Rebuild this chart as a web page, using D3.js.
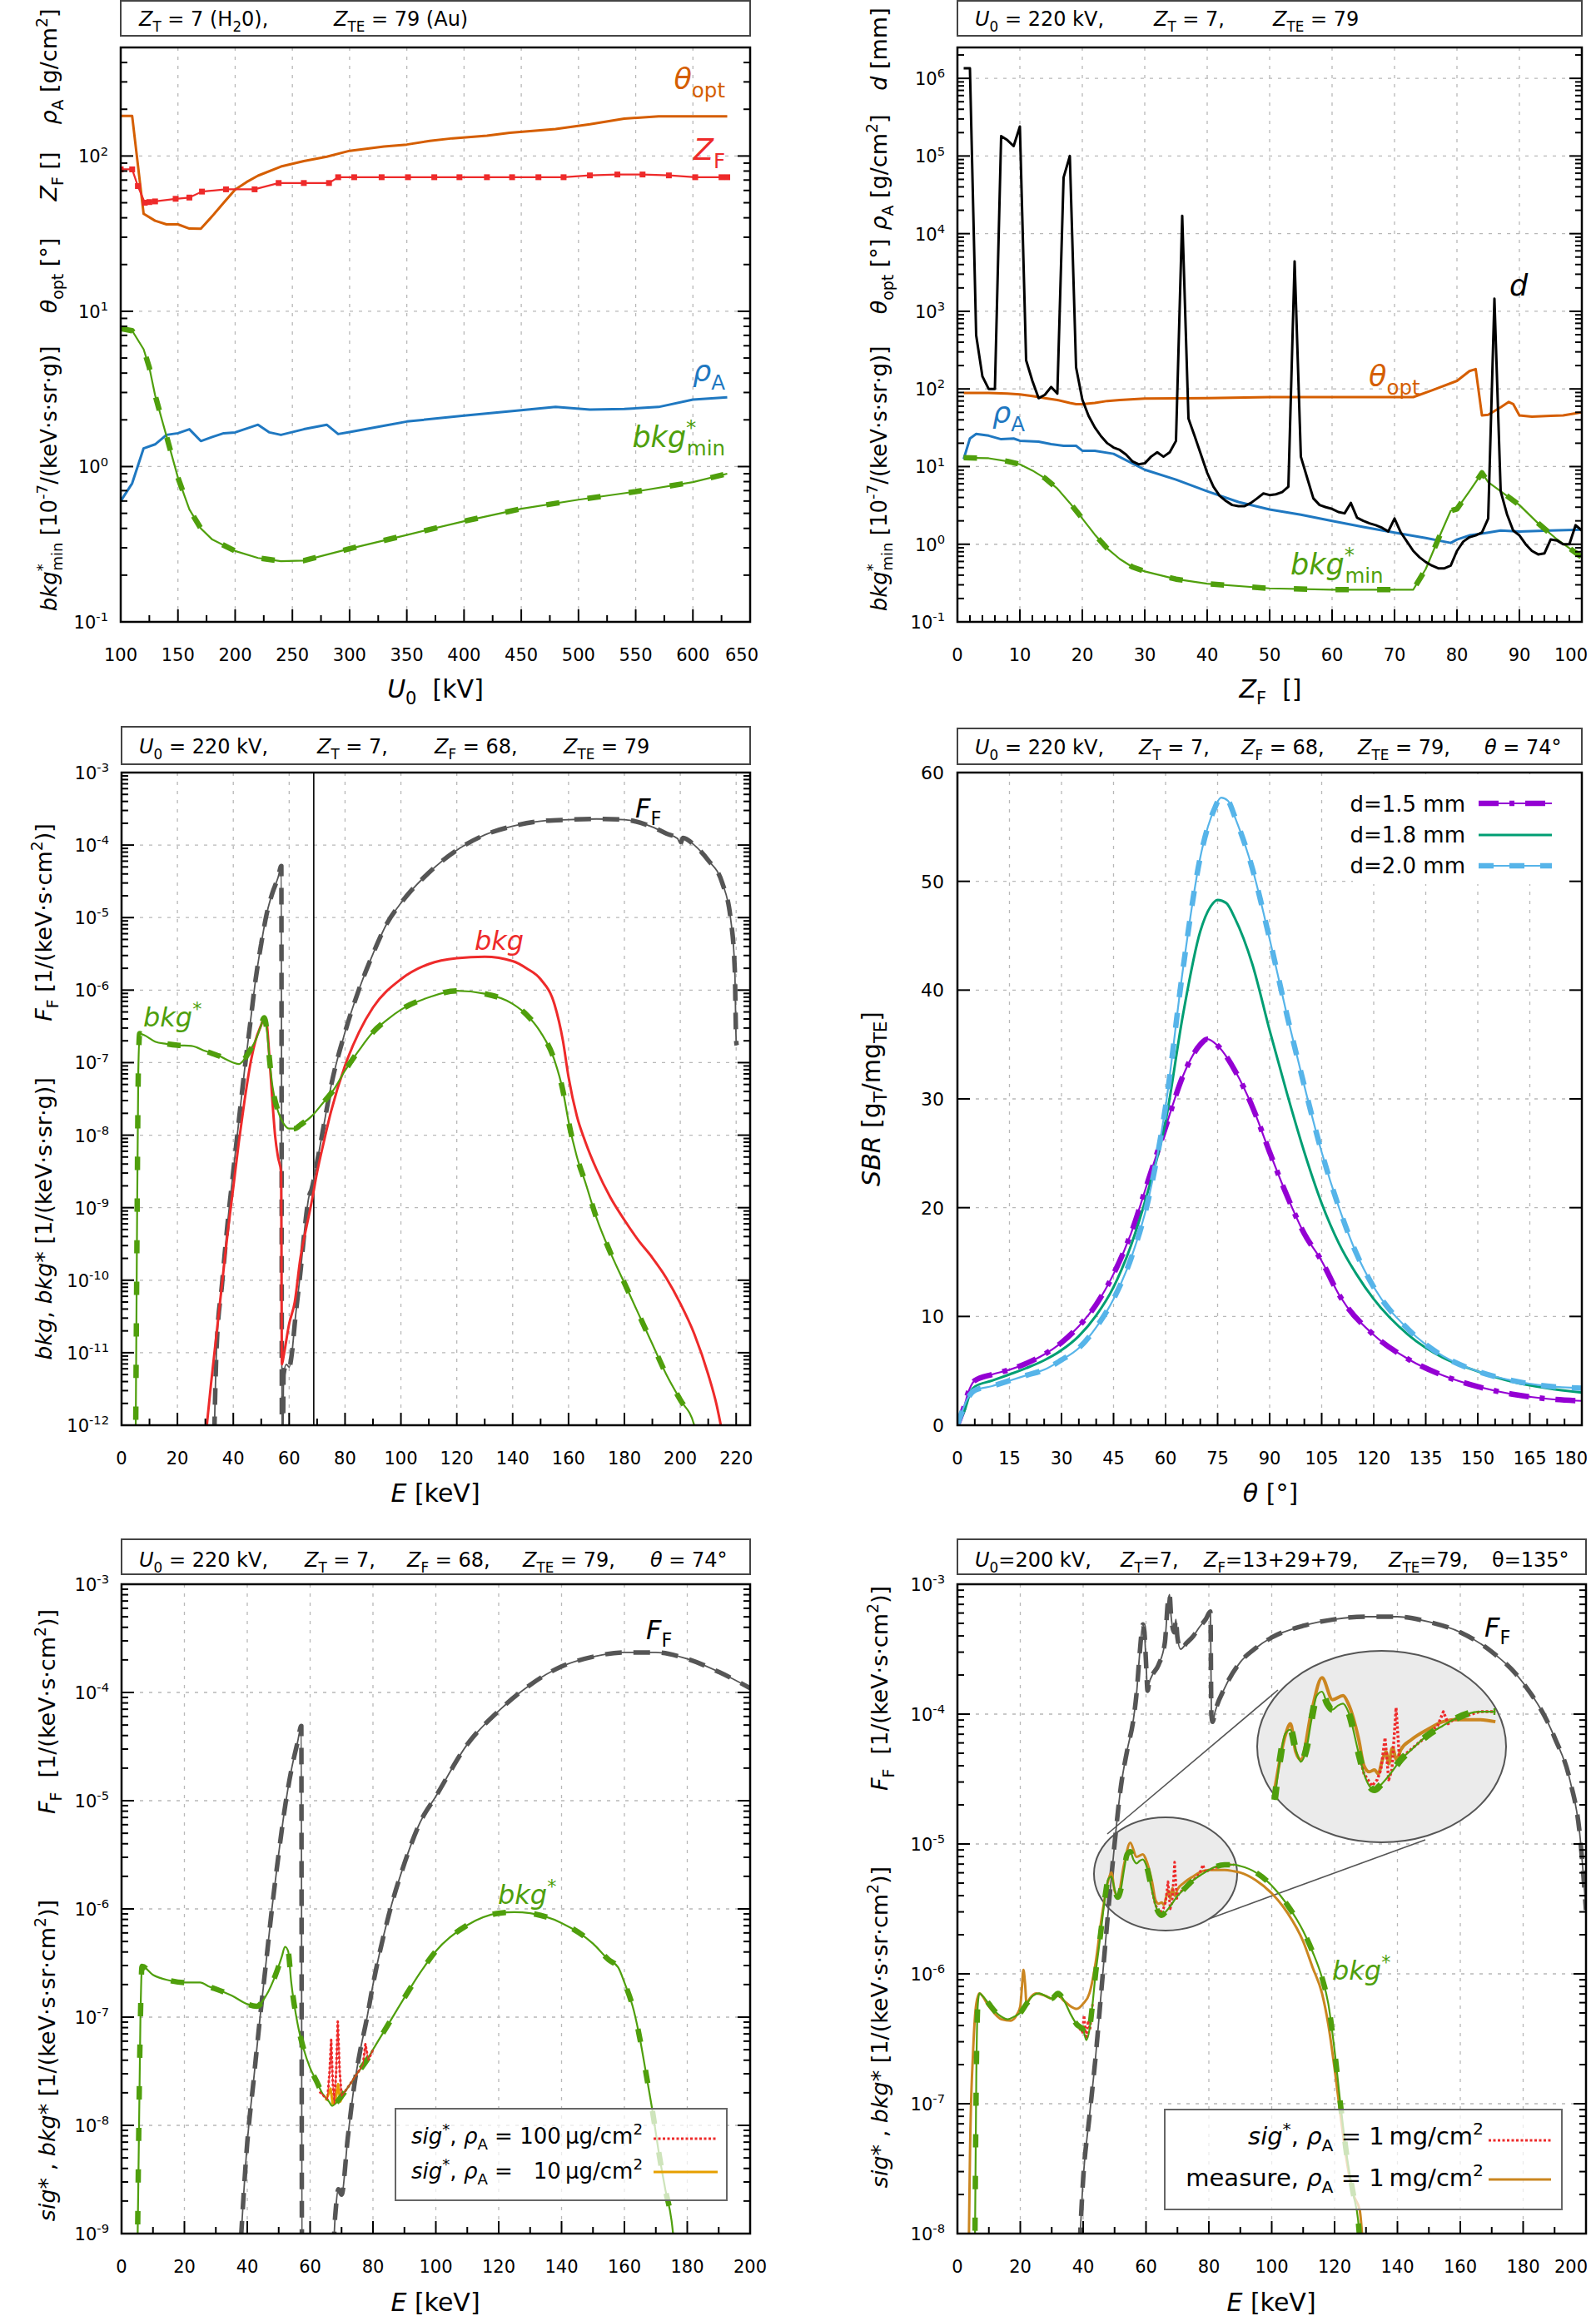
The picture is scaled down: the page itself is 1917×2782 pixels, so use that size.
<!DOCTYPE html>
<html><head><meta charset="utf-8">
<script src="https://cdn.jsdelivr.net/npm/d3@7"></script>
<style>body{margin:0;background:#fff} text{font-family:"DejaVu Sans",sans-serif}</style>
</head><body>
<script>
// ---------- data: panel 1 (x = U0 [kV]) ----------
const p1U_theta = [[100,181],[110,181],[120,42.5],[130,38.3],[140,36.3],[150,36.3],[160,34.1],[170,34],[180,41],[190,50],[200,60.8],[210,68],[220,74.7],[240,85.5],[250,89],[260,92.8],[280,99],[300,108],[330,115],[350,118.5],[370,125],[390,130],[420,135],[440,141],[480,149],[510,160],[540,174],[570,180],[630,180]];
const p1U_zf = [[100,82],[110,82],[115,64],[121,50],[125,50.5],[130,51],[148,53],[160,54],[171,59],[192,61],[217,61],[238,67],[260,67],[282,67],[290,73],[304,73],[328,73],[351,73],[374,73],[396,73],[420,73],[442,73],[465,73],[487,73],[510,75],[534,76],[556,76],[579,75],[602,73],[625,73],[630,73]];
const p1U_rho = [[100,0.6],[110,0.78],[120,1.31],[130,1.39],[140,1.6],[150,1.64],[160,1.74],[170,1.46],[180,1.55],[190,1.64],[200,1.66],[220,1.86],[230,1.66],[240,1.6],[260,1.74],[280,1.86],[290,1.62],[300,1.67],[350,1.95],[400,2.13],[450,2.31],[480,2.42],[510,2.33],[540,2.35],[570,2.42],[600,2.7],[630,2.79]];
const p1U_bkg = [[100,7.74],[110,7.5],[120,5.7],[125,4.35],[130,2.89],[140,1.57],[150,0.85],[160,0.53],[170,0.4],[180,0.339],[200,0.286],[220,0.258],[240,0.246],[260,0.248],[300,0.296],[350,0.363],[400,0.445],[450,0.535],[500,0.612],[550,0.69],[600,0.794],[630,0.9]];

// ---------- panel 2 (x = Z_F) ----------
const p2Z_d = [[1,1.35e6],[2,1.35e6],[3,490],[4,145],[5,100],[6,100],[7,1.8e5],[8,1.6e5],[9,1.34e5],[10,2.4e5],[11,234],[12,127],[13,76],[14,84],[15,106],[16,87],[17,5.3e4],[18,1e5],[19,190],[20,73],[21,45],[22,32],[23,24.6],[24,20],[25,17.6],[26,16.4],[27,14.3],[28,11.7],[29,10.7],[30,11],[31,13.4],[32,15.3],[33,13.4],[34,15.3],[35,21.4],[36,1.7e4],[37,41.5],[38,24.6],[39,14.3],[40,8.3],[41,5.5],[42,4.2],[43,3.6],[44,3.2],[45,3.1],[46,3.1],[47,3.4],[48,3.9],[49,4.5],[50,4.3],[51,4.4],[52,4.7],[53,5.5],[54,4.4e3],[55,13.4],[56,7.2],[57,3.9],[58,3.2],[59,3.0],[60,2.85],[61,2.6],[62,2.5],[63,3.4],[64,2.2],[65,2.0],[66,1.86],[67,1.76],[68,1.63],[69,1.46],[70,2.14],[71,1.42],[72,1.08],[73,0.82],[74,0.68],[75,0.59],[76,0.53],[77,0.49],[78,0.49],[79,0.53],[80,0.82],[81,1.08],[82,1.23],[83,1.3],[84,1.42],[85,2.14],[86,1.45e3],[87,4.8],[88,2.45],[89,1.5],[90,1.3],[91,1.0],[92,0.82],[93,0.74],[94,0.76],[95,1.15],[96,1.12],[97,1.0],[98,1.0],[99,1.76],[100,1.5]];
const p2Z_theta = [[1,89],[5,89],[8,87],[10,85],[12,81],[14,76],[16,72],[18,66],[19,63.6],[20,63.6],[22,66],[24,70],[26,72],[30,75],[40,76],[50,78.5],[60,78.5],[73,78.5],[76,96],[80,127],[82,170],[83,180],[84,45.6],[85,46.5],[87,58],[88.3,68],[89,64],[90,45.6],[92,44],[95,45],[97,45.6],[100,50]];
const p2Z_rho = [[1,12.5],[2,23],[3,26.3],[5,25],[7,22.5],[9,23],[10,21.5],[13,21],[15,19.5],[17,18.5],[19,18.5],[20,16],[22,16],[25,14.6],[30,9.1],[35,6.8],[40,4.8],[45,3.5],[50,2.8],[55,2.4],[60,2.0],[65,1.67],[70,1.41],[75,1.2],[79,1.04],[80,1.15],[82,1.3],[85,1.41],[87,1.5],[90,1.46],[95,1.5],[100,1.54]];
const p2Z_bkg = [[1,13],[5,12.8],[8,11.7],[10,10.7],[12,8.9],[14,7.1],[16,5.2],[18,3.4],[20,2.14],[22,1.33],[24,0.88],[26,0.645],[28,0.51],[30,0.447],[35,0.355],[40,0.31],[50,0.27],[60,0.26],[73,0.26],[75,0.48],[77,1.16],[79,2.7],[80,2.85],[82,4.8],[84,8.3],[85,6.3],[87,4.8],[90,3.2],[93,1.86],[96,1.16],[100,0.68]];

// ---------- panel 3 (x = E [keV], y as log10) ----------
const p3E_FF = [[33,-12.5],[34,-10.95],[36,-10.04],[38,-9.2],[40,-8.5],[42,-7.8],[44,-7.11],[46,-6.48],[48,-5.85],[50,-5.36],[52,-4.94],[54,-4.66],[56,-4.45],[57.2,-4.29],[57.4,-12.5],[57.7,-12.5],[58,-11.3],[59,-11.16],[60,-11.2],[61,-11.0],[62,-10.6],[64,-9.9],[66,-9.14],[67,-8.86],[68,-8.75],[70,-8.37],[72,-7.95],[75,-7.32],[80,-6.58],[85,-5.99],[90,-5.5],[95,-5.08],[100,-4.8],[110,-4.38],[120,-4.07],[130,-3.86],[140,-3.74],[150,-3.67],[160,-3.65],[170,-3.64],[180,-3.65],[190,-3.75],[195,-3.84],[199,-3.91],[200,-3.98],[201,-3.9],[205,-4.0],[210,-4.21],[215,-4.52],[218,-5.01],[219.5,-5.71],[220,-6.69],[220.2,-6.76]];
const p3E_bkg = [[30,-12.2],[32,-11.44],[34,-10.74],[36,-10.04],[38,-9.34],[40,-8.72],[42,-8.09],[44,-7.53],[46,-7.04],[48,-6.69],[50,-6.48],[51,-6.38],[52,-6.48],[53,-6.97],[54,-7.53],[55,-8.02],[56,-8.3],[57.1,-8.51],[57.4,-11.16],[58,-11.05],[60,-10.6],[62,-10.3],[64,-9.7],[66,-9.3],[68,-8.93],[70,-8.51],[72,-8.16],[75,-7.67],[80,-7.04],[85,-6.58],[90,-6.24],[100,-5.85],[110,-5.64],[120,-5.56],[130,-5.54],[140,-5.6],[145,-5.7],[150,-5.85],[155,-6.2],[158,-6.7],[160,-7.2],[163,-7.74],[166,-8.09],[170,-8.47],[175,-8.86],[180,-9.17],[185,-9.45],[190,-9.69],[195,-9.97],[200,-10.32],[205,-10.74],[210,-11.3],[213,-11.72],[215.5,-12.2]];
const p3E_bkgS = [[5,-12.5],[5.5,-9.5],[6,-7.11],[6.5,-6.6],[8,-6.62],[12,-6.71],[16,-6.74],[20,-6.76],[25,-6.77],[30,-6.84],[35,-6.91],[40,-7.0],[42,-7.02],[44,-6.95],[46,-6.83],[48,-6.69],[50,-6.48],[51,-6.38],[52,-6.55],[53,-6.97],[54,-7.32],[56,-7.67],[58,-7.84],[60,-7.91],[62,-7.91],[64,-7.86],[68,-7.74],[72,-7.56],[76,-7.37],[80,-7.11],[85,-6.83],[90,-6.58],[95,-6.41],[100,-6.27],[110,-6.1],[120,-6.01],[130,-6.05],[140,-6.19],[145,-6.34],[150,-6.58],[155,-6.97],[158,-7.39],[160,-7.81],[163,-8.3],[166,-8.65],[170,-9.14],[175,-9.62],[180,-10.04],[185,-10.46],[190,-10.88],[195,-11.3],[200,-11.65],[205,-12.0],[206,-12.2]];
const p3E_line = 68.8;

// ---------- panel 4 (x = theta [deg], SBR) ----------
const p4T_d15 = [[0,0],[2,1.77],[3,2.9],[5,4.1],[10,4.67],[15,5.1],[20,5.7],[25,6.5],[30,7.6],[35,9.1],[40,11.1],[45,13.9],[50,17.6],[55,22.5],[60,27.4],[65,32.1],[70,35.0],[72,35.5],[75,34.9],[80,32.6],[85,29.3],[90,25.1],[95,21.1],[100,17.6],[105,15.1],[110,12.0],[120,8.3],[130,6.07],[140,4.57],[150,3.55],[160,2.85],[170,2.43],[180,2.24]];
const p4T_d18 = [[0,0],[2,1.3],[4,3.2],[5,3.55],[10,4.1],[15,4.67],[20,5.27],[25,5.97],[30,6.9],[35,8.2],[40,10.1],[45,12.7],[50,16.5],[55,21.6],[60,27.9],[65,37.7],[70,45.4],[73,47.7],[75,48.3],[77.5,48.0],[80,46.6],[85,42.4],[90,36.3],[95,30.5],[100,25.1],[105,20.4],[110,16.7],[115,13.9],[120,11.6],[130,8.3],[140,6.2],[150,4.95],[160,4.0],[170,3.4],[180,3.0]];
const p4T_d20 = [[0,0],[3,2.5],[5,3.2],[10,3.6],[15,4.1],[20,4.6],[25,5.1],[30,6.0],[35,7.1],[40,9.0],[45,11.6],[50,15.3],[55,20.7],[60,29.3],[65,41.9],[70,52.2],[74,56.6],[76,57.7],[78,57.4],[80,55.9],[85,51.2],[90,44.7],[95,37.7],[100,31.2],[105,25.1],[110,20.0],[115,15.8],[120,12.7],[130,8.8],[140,6.35],[150,4.95],[160,4.1],[170,3.6],[180,3.4]];
const p4Legend = ["d=1.5 mm", "d=1.8 mm", "d=2.0 mm"];

// ---------- panel 5 (x = E [keV], y as log10) ----------
const p5E_FF = [[37.5,-9.3],[40,-8.16],[42,-7.59],[44,-7.02],[46,-6.49],[48,-5.96],[50,-5.49],[52,-5.06],[54,-4.72],[56,-4.46],[57.2,-4.31],[57.4,-9.3],[67,-9.3],[68,-8.83],[69,-8.59],[70,-8.64],[72,-8.11],[74,-7.64],[76,-7.3],[78,-7.02],[80,-6.7],[85,-6.06],[90,-5.58],[95,-5.2],[100,-4.96],[110,-4.48],[120,-4.17],[130,-3.93],[140,-3.76],[150,-3.67],[160,-3.63],[170,-3.63],[180,-3.69],[190,-3.81],[200,-3.96]];
const p5E_bkgS = [[5,-9.3],[6,-7.02],[6.5,-6.53],[10,-6.61],[15,-6.66],[20,-6.68],[25,-6.68],[28,-6.72],[30,-6.74],[35,-6.8],[40,-6.88],[43,-6.9],[46,-6.8],[49,-6.61],[51,-6.44],[52,-6.35],[53,-6.39],[54,-6.68],[56,-7.06],[58,-7.3],[60,-7.47],[62,-7.59],[64,-7.71],[66,-7.78],[67,-7.82],[68,-7.8],[70,-7.73],[72,-7.65],[75,-7.52],[78,-7.4],[80,-7.3],[85,-7.06],[90,-6.82],[95,-6.59],[100,-6.39],[110,-6.15],[120,-6.04],[125,-6.03],[130,-6.04],[140,-6.13],[150,-6.32],[155,-6.47],[158,-6.54],[160,-6.68],[163,-6.94],[165,-7.21],[167,-7.54],[169,-7.88],[171,-8.26],[173,-8.59],[175,-8.88],[176.5,-9.3]];
const p5E_sig100 = [[63,-7.69],[65.5,-7.76],[66.2,-7.5],[66.7,-7.21],[67.2,-7.6],[67.7,-7.8],[68.3,-7.5],[68.8,-7.04],[69.4,-7.5],[70,-7.73],[72,-7.65],[75,-7.52],[76.8,-7.44],[77.6,-7.25],[78.5,-7.4],[80,-7.3]];
const p5E_sig10 = [[65,-7.77],[66.5,-7.66],[67.2,-7.8],[68,-7.79],[68.9,-7.62],[69.6,-7.78],[70.5,-7.72]];

// ---------- panel 6 (x = E [keV], y as log10) ----------
const p6E_FF = [[38.5,-8.3],[40,-7.58],[42,-7.1],[44,-6.63],[46,-6.07],[48,-5.51],[50,-5.0],[52,-4.56],[54,-4.28],[56,-4.04],[57,-3.84],[58,-3.53],[59,-3.31],[59.5,-3.37],[60,-3.6],[60.5,-3.82],[61,-3.76],[62,-3.7],[64,-3.62],[66,-3.45],[67,-3.13],[67.5,-3.08],[68,-3.25],[69,-3.37],[69.5,-3.27],[70,-3.41],[71,-3.5],[73,-3.45],[75,-3.4],[77,-3.33],[79,-3.27],[80.5,-3.21],[80.8,-4.0],[81.2,-4.06],[82,-3.98],[85,-3.8],[90,-3.6],[95,-3.49],[100,-3.41],[110,-3.32],[120,-3.27],[130,-3.25],[135,-3.25],[140,-3.25],[150,-3.29],[160,-3.37],[170,-3.52],[180,-3.76],[190,-4.18],[195,-4.52],[198,-4.92],[200,-5.51]];
const p6E_bkgS = [[5.5,-8.3],[6,-6.79],[6.5,-6.23],[7,-6.15],[8,-6.17],[10,-6.23],[12,-6.29],[14,-6.33],[16,-6.35],[18,-6.33],[20,-6.3],[22,-6.23],[24,-6.17],[26,-6.15],[28,-6.17],[30,-6.19],[32,-6.15],[34,-6.21],[36,-6.31],[38,-6.39],[40,-6.43],[41,-6.51],[42,-6.43],[43,-6.23],[44,-5.99],[45,-5.8],[46,-5.6],[47,-5.4],[48,-5.27],[49,-5.25],[50,-5.35],[51,-5.41],[52,-5.35],[53,-5.2],[54,-5.08],[55,-5.06],[56,-5.12],[57,-5.15],[58,-5.13],[59,-5.12],[60,-5.16],[62,-5.37],[63,-5.47],[64,-5.53],[65,-5.55],[66,-5.53],[68,-5.47],[70,-5.4],[72,-5.35],[75,-5.28],[78,-5.23],[80,-5.2],[85,-5.16],[88,-5.16],[90,-5.17],[95,-5.22],[100,-5.32],[105,-5.47],[110,-5.67],[113,-5.83],[116,-6.03],[118,-6.23],[120,-6.59],[122,-7.03],[124,-7.42],[126,-7.7],[127.5,-7.9],[128.7,-8.3]];
const p6E_meas = [[3.5,-8.3],[3.7,-7.94],[4,-7.38],[5,-6.59],[6,-6.23],[7,-6.15],[10,-6.25],[14,-6.35],[17,-6.36],[19,-6.31],[20,-6.25],[20.5,-6.11],[21,-5.97],[21.5,-6.07],[22,-6.23],[23,-6.19],[25,-6.15],[28,-6.17],[30,-6.19],[32,-6.17],[34,-6.21],[36,-6.25],[38,-6.27],[40,-6.23],[42,-6.15],[44,-5.91],[46,-5.55],[48,-5.28],[49,-5.22],[50,-5.36],[51,-5.4],[53,-5.16],[55,-4.99],[57,-5.1],[59,-5.08],[60,-5.12],[62,-5.3],[63,-5.43],[64,-5.46],[65,-5.45],[65.7,-5.47],[66.5,-5.4],[67.2,-5.36],[67.7,-5.42],[68.4,-5.34],[69.2,-5.4],[70,-5.35],[72,-5.3],[75,-5.25],[78,-5.21],[80,-5.2],[85,-5.2],[88,-5.21],[90,-5.22],[95,-5.28],[100,-5.38],[105,-5.53],[110,-5.75],[113,-5.95],[116,-6.15],[118,-6.39],[120,-6.73],[122,-7.11],[124,-7.46],[126,-7.7],[128,-7.82],[129.5,-8.3]];
const p6E_sigA = [[38,-6.39],[39.7,-6.45],[40.3,-6.32],[41,-6.5],[41.6,-6.36],[42.2,-6.43],[43,-6.23]];
const p6E_sigB = [[62,-5.37],[63,-5.47],[64.5,-5.53],[65.5,-5.5],[66.2,-5.45],[67,-5.29],[67.7,-5.5],[68.3,-5.45],[69.1,-5.14],[69.8,-5.42],[70.5,-5.38],[75,-5.28],[77,-5.23],[78.1,-5.16],[79,-5.22],[80,-5.2],[85,-5.16],[88,-5.16]];
const p6Inset = [46, 88.5];

// ---------- drawing ----------
const W = 1917, H = 2782;
const svg = d3.select("body").append("svg").attr("width", W).attr("height", H).style("display", "block");
svg.append("rect").attr("width", W).attr("height", H).attr("fill", "#fff");

const C = {
  orange: "#d55e00", red: "#ee2a2a", blue: "#1f78c1", green: "#4f9f0c", gray: "#555",
  purple: "#9400d3", teal: "#009e73", sky: "#56b4e9", amber: "#e69f00", brown: "#cb8620"
};
const unlog = a => a.map(d => [d[0], Math.pow(10, d[1])]);

function rich(sel, parts, fs) {
  let cur = 0;
  parts.forEach(p => {
    const t = p[0], st = p[1] || "";
    const sub = st.includes("b"), sup = st.includes("p");
    const target = sub ? 0.28 * fs : sup ? -0.42 * fs : 0;
    const ts = sel.append("tspan").text(t);
    if (target !== cur) ts.attr("dy", target - cur);
    cur = target;
    if (sub || sup) ts.attr("font-size", 0.7 * fs);
    if (st.includes("i")) ts.attr("font-style", "italic");
    if (st.includes("k")) ts.attr("dx", -0.33 * fs);
  });
  return sel;
}
function label(g, x, y, parts, o = {}) {
  const fs = o.fs || 26;
  const t = g.append("text").attr("font-size", fs).attr("fill", o.fill || "#000")
    .attr("text-anchor", o.anchor || "start").style("white-space", "pre");
  if (o.rot) t.attr("transform", `translate(${x},${y}) rotate(-90)`);
  else t.attr("x", x).attr("y", y);
  return rich(t, parts, fs);
}

let clipN = 0;
function panel(o) {
  const x = d3.scaleLinear().domain(o.xd).range([o.l, o.r]);
  const y = (o.log ? d3.scaleLog() : d3.scaleLinear()).domain(o.yd).range([o.b, o.t]);
  const g = svg.append("g");
  g.append("rect").attr("x", o.l).attr("y", o.boxT).attr("width", o.r - o.l).attr("height", o.boxB - o.boxT)
    .attr("fill", "#fff").attr("stroke", "#444").attr("stroke-width", 2);
  o.title.forEach(([tx, parts]) => label(g, tx, o.titleY, parts, {fs: 24}));

  const xMaj = d3.range(o.xt[0], o.xt[1] + 1e-9, o.xt[2]);
  const xMin = d3.range(o.xd[0], o.xd[1] + 1e-9, o.xm).filter(v => !xMaj.some(m => Math.abs(m - v) < 1e-9));
  let yMaj = [], yMin = [];
  if (o.log) {
    const e0 = Math.round(Math.log10(o.yd[0])), e1 = Math.floor(Math.log10(o.yd[1]) + 1e-9);
    for (let e = e0; e <= e1; e++) {
      yMaj.push(Math.pow(10, e));
      for (let m = 2; m <= 9; m++) if (m * Math.pow(10, e) <= o.yd[1] * 1.0001) yMin.push(m * Math.pow(10, e));
    }
  } else {
    yMaj = d3.range(o.yd[0], o.yd[1] + 1e-9, o.yt);
  }
  const grid = g.append("g").attr("stroke", "#b8b8b8").attr("stroke-width", 1.3).attr("stroke-dasharray", "4,7");
  xMaj.filter(v => x(v) > o.l + 2 && x(v) < o.r - 2).forEach(v =>
    grid.append("line").attr("x1", x(v)).attr("x2", x(v)).attr("y1", o.t).attr("y2", o.b));
  yMaj.filter(v => y(v) > o.t + 2 && y(v) < o.b - 2).forEach(v =>
    grid.append("line").attr("x1", o.l).attr("x2", o.r).attr("y1", y(v)).attr("y2", y(v)));

  const id = "clip" + (clipN++);
  svg.append("clipPath").attr("id", id).append("rect")
    .attr("x", o.l).attr("y", o.t).attr("width", o.r - o.l).attr("height", o.b - o.t);
  const under = g.append("g");
  const cg = g.append("g").attr("clip-path", `url(#${id})`);

  const ax = g.append("g").attr("stroke", "#000");
  ax.append("rect").attr("x", o.l).attr("y", o.t).attr("width", o.r - o.l).attr("height", o.b - o.t)
    .attr("fill", "none").attr("stroke-width", 2.5);
  const tick = (x1, y1, x2, y2, w) => ax.append("line").attr("x1", x1).attr("y1", y1).attr("x2", x2).attr("y2", y2).attr("stroke-width", w);
  xMaj.forEach(v => tick(x(v), o.b, x(v), o.b - 15, 2));
  xMin.forEach(v => tick(x(v), o.b, x(v), o.b - 8, 2));
  yMaj.forEach(v => { tick(o.l, y(v), o.l + 15, y(v), 2); tick(o.r, y(v), o.r - 15, y(v), 2); });
  yMin.forEach(v => { tick(o.l, y(v), o.l + 8, y(v), 2); tick(o.r, y(v), o.r - 8, y(v), 2); });

  const tl = g.append("g");
  xMaj.forEach((v, i) => {
    const sh = (i === xMaj.length - 1 && o.lastShift) ? o.lastShift : 0;
    tl.append("text").attr("x", x(v) + sh).attr("y", o.b + 47).attr("text-anchor", "middle")
      .attr("font-size", 21).text(String(v));
  });
  yMaj.forEach(v => {
    if (o.log) {
      const e = Math.round(Math.log10(v));
      label(tl, o.l - 15, y(v) + 8, [["10"], [String(e), "p"]], {fs: 21, anchor: "end"});
    } else {
      tl.append("text").attr("x", o.l - 16).attr("y", y(v) + 8).attr("text-anchor", "end")
        .attr("font-size", 22).text(String(v));
    }
  });
  return {x, y, g, cg, under, o};
}

function curve(P, data, s, sx, sy, tgt) {
  const X = sx || P.x, Y = sy || P.y;
  const gen = d3.line().x(d => X(d[0])).y(d => Y(d[1]));
  if (s.smooth) gen.curve(d3.curveMonotoneX);
  const T = tgt || P.cg;
  if (s.thin) T.append("path").attr("d", gen(data)).attr("fill", "none").attr("stroke", s.c)
    .attr("stroke-width", s.thin).attr("stroke-linejoin", "round");
  const p = T.append("path").attr("d", gen(data)).attr("fill", "none").attr("stroke", s.c)
    .attr("stroke-width", s.w).attr("stroke-linejoin", "round");
  if (s.dash) p.attr("stroke-dasharray", s.dash);
  return p;
}
const FFst = {c: C.gray, thin: 1.8, w: 5.5, dash: "20,14", smooth: true};
const BKst = {c: C.green, thin: 2.2, w: 6.5, dash: "16,34", smooth: true};

const T_U0 = [["U", "i"], ["0", "b"], [" = 220 kV,"]];
const T_ZT = [["Z", "i"], ["T", "b"], [" = 7,"]];
const T_ZF = [["Z", "i"], ["F", "b"], [" = 68,"]];

// ===== panel 1 =====
const P1 = panel({l: 145, r: 901, t: 57, b: 747, xd: [100, 650], xt: [100, 650, 50], xm: 25, log: true, yd: [0.1, 500],
  boxT: 1, boxB: 43, titleY: 31, lastShift: -10,
  title: [[167, [["Z", "i"], ["T", "b"], [" = 7 (H"], ["2", "b"], ["0),"]]], [401, [["Z", "i"], ["TE", "b"], [" = 79 (Au)"]]]]});
curve(P1, p1U_theta, {c: C.orange, w: 3});
curve(P1, p1U_zf, {c: C.red, w: 2.2});
P1.cg.selectAll("rect.m").data(p1U_zf).enter().append("rect").attr("class", "m")
  .attr("x", d => P1.x(d[0]) - 3.5).attr("y", d => P1.y(d[1]) - 3.5).attr("width", 7).attr("height", 7).attr("fill", C.red);
curve(P1, p1U_rho, {c: C.blue, w: 3});
curve(P1, p1U_bkg, {c: C.green, thin: 2.2, w: 6.5, dash: "16,34"});
label(P1.g, 871, 107, [["θ", "i"], ["opt", "b"]], {fs: 35, fill: C.orange, anchor: "end"});
label(P1.g, 871, 192, [["Z", "i"], ["F", "b"]], {fs: 35, fill: C.red, anchor: "end"});
label(P1.g, 871, 458, [["ρ", "i"], ["A", "b"]], {fs: 35, fill: C.blue, anchor: "end"});
label(P1.g, 871, 537, [["bkg", "i"], ["*", "p"], ["min", "bk"]], {fs: 35, fill: C.green, anchor: "end"});
label(P1.g, 68, 80, [["ρ", "i"], ["A", "b"], [" [g/cm"], ["2", "p"], ["]"]], {fs: 27, rot: true, anchor: "middle"});
label(P1.g, 68, 212, [["Z", "i"], ["F", "b"], [" []"]], {fs: 27, rot: true, anchor: "middle"});
label(P1.g, 68, 331, [["θ", "i"], ["opt", "b"], [" [°]"]], {fs: 27, rot: true, anchor: "middle"});
label(P1.g, 68, 575, [["bkg", "i"], ["*", "p"], ["min", "bk"], [" [10"], ["-7", "p"], ["/(keV·s·sr·g)]"]], {fs: 26, rot: true, anchor: "middle"});
label(P1.g, 523, 838, [["U", "i"], ["0", "b"], ["  [kV]"]], {fs: 30, anchor: "middle"});

// ===== panel 2 =====
const P2 = panel({l: 1150, r: 1900, t: 57, b: 747, xd: [0, 100], xt: [0, 100, 10], xm: 2, log: true, yd: [0.1, 2.5e6],
  boxT: 1, boxB: 43, titleY: 31, lastShift: -13,
  title: [[1171, T_U0], [1386, T_ZT], [1529, [["Z", "i"], ["TE", "b"], [" = 79"]]]]});
curve(P2, p2Z_theta, {c: C.orange, w: 3});
curve(P2, p2Z_rho, {c: C.blue, w: 3});
curve(P2, p2Z_bkg, {c: C.green, thin: 2.2, w: 6.5, dash: "16,34"});
curve(P2, p2Z_d, {c: "#000", w: 3});
label(P2.g, 1813, 355, [["d", "i"]], {fs: 35});
label(P2.g, 1644, 464, [["θ", "i"], ["opt", "b"]], {fs: 35, fill: C.orange});
label(P2.g, 1192, 508, [["ρ", "i"], ["A", "b"]], {fs: 35, fill: C.blue});
label(P2.g, 1550, 690, [["bkg", "i"], ["*", "p"], ["min", "bk"]], {fs: 35, fill: C.green});
label(P2.g, 1065, 59, [["d", "i"], [" [mm]"]], {fs: 27, rot: true, anchor: "middle"});
label(P2.g, 1065, 207, [["ρ", "i"], ["A", "b"], [" [g/cm"], ["2", "p"], ["]"]], {fs: 27, rot: true, anchor: "middle"});
label(P2.g, 1065, 332, [["θ", "i"], ["opt", "b"], [" [°]"]], {fs: 27, rot: true, anchor: "middle"});
label(P2.g, 1065, 575, [["bkg", "i"], ["*", "p"], ["min", "bk"], [" [10"], ["-7", "p"], ["/(keV·s·sr·g)]"]], {fs: 26, rot: true, anchor: "middle"});
label(P2.g, 1526, 838, [["Z", "i"], ["F", "b"], ["  []"]], {fs: 30, anchor: "middle"});

// ===== panel 3 =====
const P3 = panel({l: 146, r: 901, t: 928, b: 1712, xd: [0, 225], xt: [0, 220, 20], xm: 10, log: true, yd: [1e-12, 1e-3],
  boxT: 873, boxB: 918, titleY: 905,
  title: [[167, T_U0], [381, T_ZT], [522, T_ZF], [677, [["Z", "i"], ["TE", "b"], [" = 79"]]]]});
P3.cg.append("line").attr("x1", P3.x(p3E_line)).attr("x2", P3.x(p3E_line)).attr("y1", P3.o.t).attr("y2", P3.o.b)
  .attr("stroke", "#000").attr("stroke-width", 1.6);
curve(P3, unlog(p3E_FF), FFst);
curve(P3, unlog(p3E_bkg), {c: C.red, w: 3, smooth: true});
curve(P3, unlog(p3E_bkgS), BKst);
label(P3.g, 763, 982, [["F", "i"], ["F", "b"]], {fs: 32});
label(P3.g, 570, 1141, [["bkg", "i"]], {fs: 32, fill: C.red});
label(P3.g, 172, 1233, [["bkg", "i"], ["*", "p"]], {fs: 32, fill: C.green});
label(P3.g, 62, 1108, [["F", "i"], ["F", "b"], [" [1/(keV·s·cm"], ["2", "p"], [")]"]], {fs: 27, rot: true, anchor: "middle"});
label(P3.g, 62, 1464, [["bkg", "i"], [", "], ["bkg", "i"], ["*"], [" [1/(keV·s·sr·g)]"]], {fs: 27, rot: true, anchor: "middle"});
label(P3.g, 523, 1804, [["E", "i"], [" [keV]"]], {fs: 30, anchor: "middle"});

// ===== panel 4 =====
const P4 = panel({l: 1150, r: 1900, t: 928, b: 1712, xd: [0, 180], xt: [0, 180, 15], xm: 5, log: false, yd: [0, 60], yt: 10,
  boxT: 875, boxB: 918, titleY: 906, lastShift: -13,
  title: [[1171, T_U0], [1368, T_ZT], [1491, T_ZF], [1631, [["Z", "i"], ["TE", "b"], [" = 79,"]]], [1783, [["θ", "i"], [" = 74°"]]]]});
const S15 = {c: C.purple, thin: 2.2, w: 6.5, dash: "24,13,6,13", smooth: true};
const S18 = {c: C.teal, w: 3, smooth: true};
const S20 = {c: C.sky, thin: 2.2, w: 6.5, dash: "18,19", smooth: true};
P4.under.append("rect").attr("x", 1625).attr("y", 930).attr("width", 273).attr("height", 132).attr("fill", "#fff");
curve(P4, p4T_d15, S15);
curve(P4, p4T_d18, S18);
curve(P4, p4T_d20, S20);
[S15, S18, S20].forEach((s, i) => {
  const yy = [965, 1003, 1040][i];
  curve(P4, [[1776, yy], [1864, yy]], s, v => v, v => v, P4.g);
  P4.g.append("text").attr("x", 1760).attr("y", [975, 1012, 1049][i]).attr("text-anchor", "end")
    .attr("font-size", 26).text(p4Legend[i]);
});
label(P4.g, 1057, 1320, [["SBR", "i"], [" [g"], ["T", "b"], ["/mg"], ["TE", "b"], ["]"]], {fs: 30, rot: true, anchor: "middle"});
label(P4.g, 1526, 1804, [["θ", "i"], [" [°]"]], {fs: 30, anchor: "middle"});

// ===== panel 5 =====
const P5 = panel({l: 146, r: 901, t: 1903, b: 2683, xd: [0, 200], xt: [0, 200, 20], xm: 10, log: true, yd: [1e-9, 1e-3],
  boxT: 1849, boxB: 1891, titleY: 1882,
  title: [[167, T_U0], [366, T_ZT], [489, T_ZF], [628, [["Z", "i"], ["TE", "b"], [" = 79,"]]], [781, [["θ", "i"], [" = 74°"]]]]});
const SIGst = {c: C.red, w: 3, dash: "3,2.5"};
const S10st = {c: C.amber, w: 3};
curve(P5, unlog(p5E_FF), FFst);
curve(P5, unlog(p5E_sig100), SIGst);
curve(P5, unlog(p5E_sig10), S10st);
curve(P5, unlog(p5E_bkgS), BKst);
curve(P5, unlog(p5E_sig100), {c: C.red, w: 1.2});
const L5 = P5.g.append("g");
L5.append("rect").attr("x", 475).attr("y", 2533).attr("width", 398).attr("height", 110)
  .attr("fill", "#fff").attr("fill-opacity", 0.72).attr("stroke", "#666").attr("stroke-width", 2);
label(L5, 772, 2575, [["sig", "i"], ["*", "p"], [", "], ["ρ", "i"], ["A", "b"], [" = 100\u2009µg/cm"], ["2", "p"]], {fs: 26, anchor: "end"});
label(L5, 772, 2617, [["sig", "i"], ["*", "p"], [", "], ["ρ", "i"], ["A", "b"], [" =   10\u2009µg/cm"], ["2", "p"]], {fs: 26, anchor: "end"});
curve(P5, [[785, 2569], [862, 2569]], SIGst, v => v, v => v, L5);
curve(P5, [[785, 2609], [862, 2609]], S10st, v => v, v => v, L5);
label(P5.g, 776, 1969, [["F", "i"], ["F", "b"]], {fs: 32});
label(P5.g, 598, 2287, [["bkg", "i"], ["*", "p"]], {fs: 32, fill: C.green});
label(P5.g, 66, 2056, [["F", "i"], ["F", "b"], ["  [1/(keV·s·cm"], ["2", "p"], [")]"]], {fs: 27, rot: true, anchor: "middle"});
label(P5.g, 66, 2475, [["sig", "i"], ["*"], [" , "], ["bkg", "i"], ["*"], [" [1/(keV·s·sr·cm"], ["2", "p"], [")]"]], {fs: 27, rot: true, anchor: "middle"});
label(P5.g, 523, 2776, [["E", "i"], [" [keV]"]], {fs: 30, anchor: "middle"});

// ===== panel 6 =====
const P6 = panel({l: 1150, r: 1905, t: 1903, b: 2683, xd: [0, 200], xt: [0, 200, 20], xm: 10, log: true, yd: [1e-8, 1e-3],
  boxT: 1849, boxB: 1891, titleY: 1882, lastShift: -18,
  title: [[1171, [["U", "i"], ["0", "b"], ["=200 kV,"]]], [1346, [["Z", "i"], ["T", "b"], ["=7,"]]],
    [1446, [["Z", "i"], ["F", "b"], ["=13+29+79,"]]], [1668, [["Z", "i"], ["TE", "b"], ["=79,"]]], [1792, [["θ=135°"]]]]});
const MEst = {c: C.brown, w: 3, smooth: true};
P6.under.append("ellipse").attr("cx", 1400).attr("cy", 2251).attr("rx", 86).attr("ry", 68)
  .attr("fill", "#ebebeb").attr("stroke", "#555").attr("stroke-width", 2);
P6.under.append("ellipse").attr("cx", 1659.5).attr("cy", 2098).attr("rx", 149.5).attr("ry", 115)
  .attr("fill", "#ebebeb").attr("stroke", "#555").attr("stroke-width", 2);
P6.under.append("line").attr("x1", 1330).attr("y1", 2203).attr("x2", 1535).attr("y2", 2030).attr("stroke", "#555").attr("stroke-width", 1.6);
P6.under.append("line").attr("x1", 1452).attr("y1", 2305).attr("x2", 1712).attr("y2", 2210).attr("stroke", "#555").attr("stroke-width", 1.6);
curve(P6, unlog(p6E_FF), FFst);
curve(P6, unlog(p6E_meas), MEst);
curve(P6, unlog(p6E_sigA), SIGst);
curve(P6, unlog(p6E_sigB), SIGst);
curve(P6, unlog(p6E_bkgS), BKst);
// magnified inset
const ix = d3.scaleLinear().domain([49, 65]).range([1550, 1651]);
const iy = d3.scaleLog().domain([Math.pow(10, -5.55), Math.pow(10, -5.06)]).range([2150, 2032]);
const inR = a => unlog(a).filter(d => d[0] >= p6Inset[0] && d[0] <= p6Inset[1]);
const IG = P6.g.append("g");
curve(P6, inR(p6E_meas).filter(d => d[0] <= 88), {c: C.brown, w: 4, smooth: true}, ix, iy, IG);
curve(P6, inR(p6E_sigB), {c: C.red, w: 3.5, dash: "3,2.5"}, ix, iy, IG);
curve(P6, inR(p6E_bkgS), {c: C.green, thin: 2.2, w: 8, dash: "16,30", smooth: true}, ix, iy, IG);
const L6 = P6.g.append("g");
L6.append("rect").attr("x", 1399).attr("y", 2534).attr("width", 477).attr("height", 120)
  .attr("fill", "#fff").attr("fill-opacity", 0.72).attr("stroke", "#666").attr("stroke-width", 2);
label(L6, 1782, 2576, [["sig", "i"], ["*", "p"], [", "], ["ρ", "i"], ["A", "b"], [" = 1\u2009mg/cm"], ["2", "p"]], {fs: 29, anchor: "end"});
label(L6, 1782, 2626, [["measure, "], ["ρ", "i"], ["A", "b"], [" = 1\u2009mg/cm"], ["2", "p"]], {fs: 29, anchor: "end"});
curve(P6, [[1788, 2571], [1863, 2571]], SIGst, v => v, v => v, L6);
curve(P6, [[1788, 2618], [1863, 2618]], MEst, v => v, v => v, L6);
label(P6.g, 1783, 1966, [["F", "i"], ["F", "b"]], {fs: 32});
label(P6.g, 1600, 2378, [["bkg", "i"], ["*", "p"]], {fs: 32, fill: C.green});
label(P6.g, 1066, 2028, [["F", "i"], ["F", "b"], ["  [1/(keV·s·cm"], ["2", "p"], [")]"]], {fs: 27, rot: true, anchor: "middle"});
label(P6.g, 1066, 2435, [["sig", "i"], ["*"], [" , "], ["bkg", "i"], ["*"], [" [1/(keV·s·sr·cm"], ["2", "p"], [")]"]], {fs: 27, rot: true, anchor: "middle"});
label(P6.g, 1527, 2776, [["E", "i"], [" [keV]"]], {fs: 30, anchor: "middle"});
</script>
</body></html>
